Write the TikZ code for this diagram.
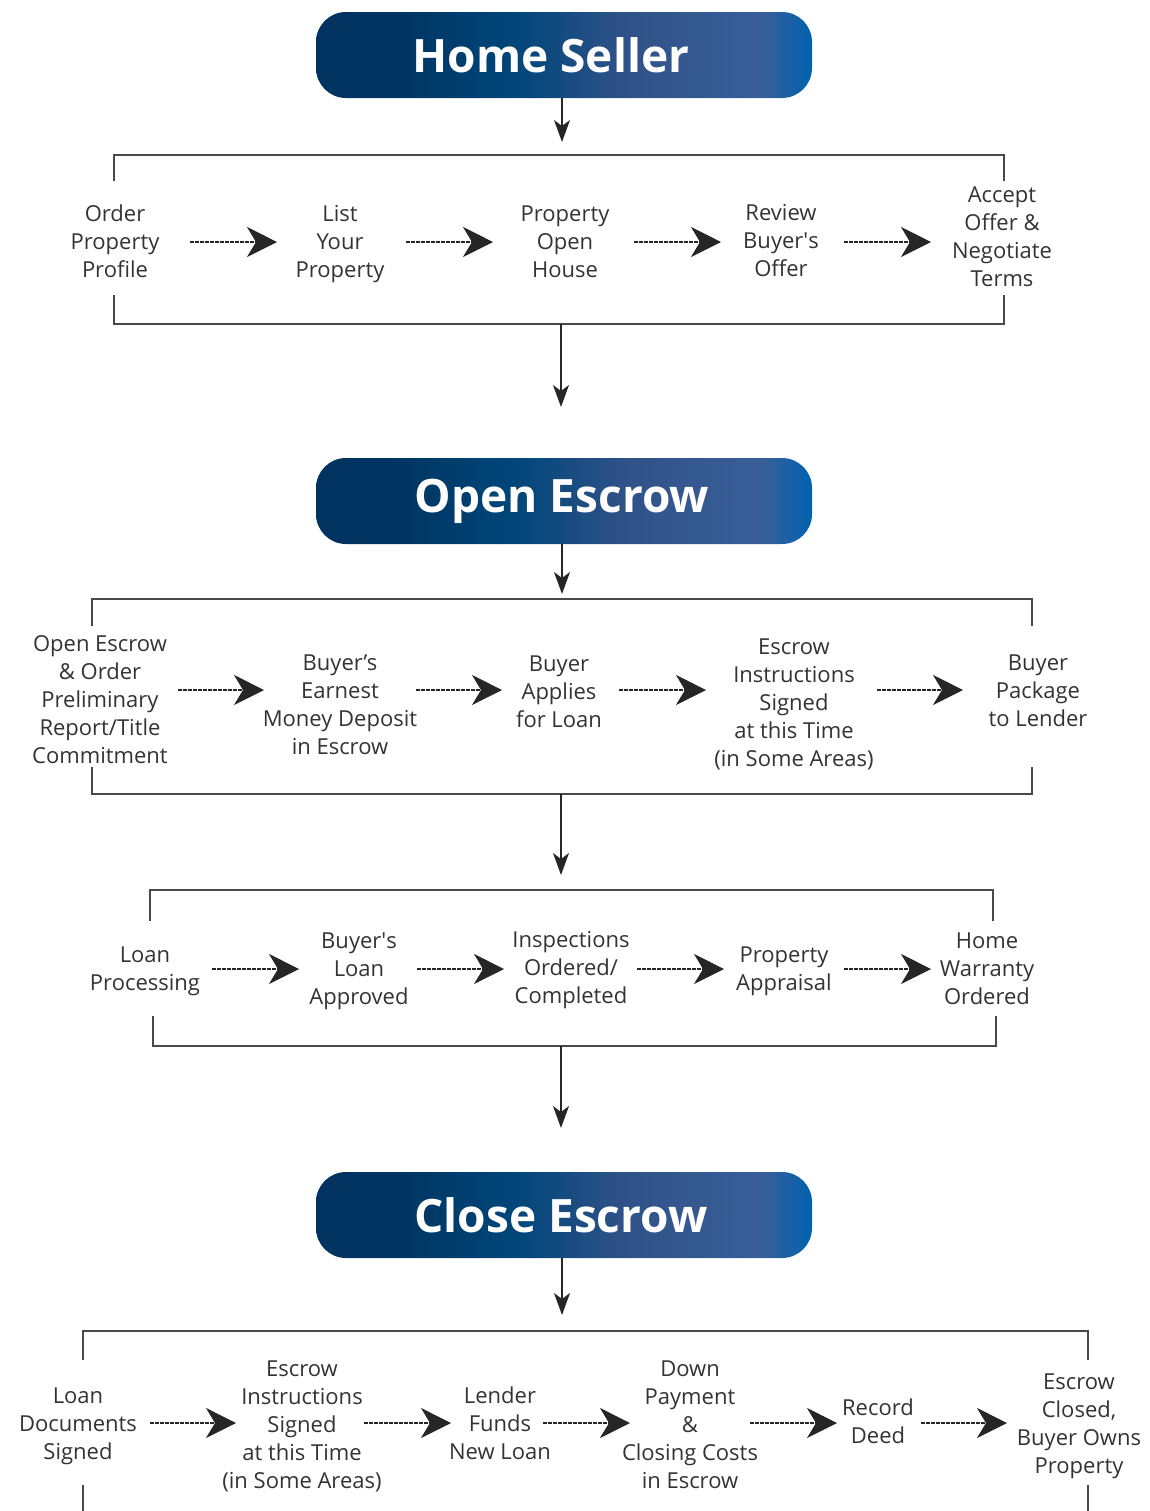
\documentclass[tikz,border=0pt]{standalone}
\usepackage{fontspec}
\setmainfont{Open Sans}
\usetikzlibrary{arrows.meta}
\definecolor{txt}{HTML}{333333}
\definecolor{brk}{HTML}{4A4A4A}
\definecolor{ga}{HTML}{00335F}
\definecolor{gb}{HTML}{00467A}
\definecolor{gc}{HTML}{2F5288}
\definecolor{gd}{HTML}{3A5E98}
\definecolor{ge}{HTML}{0062B0}
\pgfdeclarehorizontalshading{hdrshade}{100bp}{color(0bp)=(ga); color(25bp)=(ga); color(32bp)=(ga); color(45bp)=(gb); color(56bp)=(gc); color(70bp)=(gd); color(75bp)=(ge); color(100bp)=(ge)}
\newcommand{\apos}{\textquotesingle}
\tikzset{
  header/.style={shading=hdrshade, rounded corners=15pt, minimum width=248pt, minimum height=43pt,
    inner sep=0pt},
  hdrtext/.style={text=white, font=\fontsize{23}{26}\selectfont\bfseries, inner sep=0pt},
  lbl/.style={align=center, text=txt, font=\fontsize{11}{14}\selectfont, inner sep=0pt},
  flowarr/.style={draw=black!85, line width=0.55pt, dash pattern=on 2pt off 0.5pt,
    -{Stealth[length=15pt,width=15pt,inset=4.5pt]}},
  downarr/.style={draw=black!85, line width=0.8pt, -{Stealth[length=11pt,width=8pt,inset=3pt]}},
  bracket/.style={draw=brk, line width=0.75pt}
}
\begin{document}
\begin{tikzpicture}[x=0.5pt,y=-0.5pt]
\useasboundingbox (0,0) rectangle (1150,1511);

% ---------- Home Seller ----------
\node[header] (h1) at (564,55) {};
\node[hdrtext] (h1t) at (551,55) {Home Seller};
\coordinate (h1end) at (562,142);
\draw[downarr] (h1.south -| h1end) -- (h1end);

\draw[bracket] (114,181) -- (114,155) -- (1004,155) -- (1004,181);
\draw[bracket] (114,295) -- (114,324) -- (1004,324) -- (1004,295);

\node[lbl] (a1) at (115,241) {Order\\Property\\Profile};
\node[lbl] (a2) at (340,244) {List\\Your\\Property};
\node[lbl] (a3) at (565,242) {Property\\Open\\House};
\node[lbl] (a4) at (781,241) {Review\\Buyer\apos s\\Offer};
\node[lbl] (a5) at (1002,237) {Accept\\Offer \&\\Negotiate\\Terms};

\coordinate (a12s) at (190,242); \coordinate (a12e) at (277,242);
\coordinate (a23s) at (406,242); \coordinate (a23e) at (493,242);
\coordinate (a34s) at (634,242); \coordinate (a34e) at (721,242);
\coordinate (a45s) at (844,242); \coordinate (a45e) at (931,242);
\draw[flowarr] (a12s) -- (a12e);
\draw[flowarr] (a23s) -- (a23e);
\draw[flowarr] (a34s) -- (a34e);
\draw[flowarr] (a45s) -- (a45e);

\coordinate (b1s) at (561,324); \coordinate (b1e) at (561,407);
\draw[downarr] (b1s) -- (b1e);

% ---------- Open Escrow ----------
\node[header] (h2) at (564,501) {};
\node[hdrtext] (h2t) at (562,501) {Open Escrow};
\coordinate (h2end) at (562,594);
\draw[downarr] (h2.south -| h2end) -- (h2end);

\draw[bracket] (92,626) -- (92,599) -- (1032,599) -- (1032,626);
\draw[bracket] (92,767) -- (92,794) -- (1032,794) -- (1032,767);

\node[lbl] (c1) at (100,700) {Open Escrow\\\& Order\\Preliminary\\Report/Title\\Commitment};
\node[lbl] (c2) at (340,705) {Buyer’s\\Earnest\\Money Deposit\\in Escrow};
\node[lbl] (c3) at (559,692) {Buyer\\Applies\\for Loan};
\node[lbl] (c4) at (794,704) {Escrow\\Instructions\\Signed\\at this Time\\(in Some Areas)};
\node[lbl] (c5) at (1038,691) {Buyer\\Package\\to Lender};

\coordinate (c12s) at (178,690); \coordinate (c12e) at (264,690);
\coordinate (c23s) at (416,690); \coordinate (c23e) at (502,690);
\coordinate (c34s) at (619,690); \coordinate (c34e) at (706,690);
\coordinate (c45s) at (877,690); \coordinate (c45e) at (963,690);
\draw[flowarr] (c12s) -- (c12e);
\draw[flowarr] (c23s) -- (c23e);
\draw[flowarr] (c34s) -- (c34e);
\draw[flowarr] (c45s) -- (c45e);

\coordinate (b2s) at (561,794); \coordinate (b2e) at (561,875);
\draw[downarr] (b2s) -- (b2e);

% ---------- Loan row ----------
\draw[bracket] (150,921) -- (150,890) -- (993,890) -- (993,921);
\draw[bracket] (153,1016) -- (153,1046) -- (996,1046) -- (996,1016);

\node[lbl] (d1) at (145,971) {Loan\\Processing};
\node[lbl] (d2) at (359,971) {Buyer\apos s\\Loan\\Approved};
\node[lbl] (d3) at (571,970) {Inspections\\Ordered/\\Completed};
\node[lbl] (d4) at (784,971) {Property\\Appraisal};
\node[lbl] (d5) at (987,969) {Home\\Warranty\\Ordered};

\coordinate (d12s) at (212,969); \coordinate (d12e) at (299,969);
\coordinate (d23s) at (417,969); \coordinate (d23e) at (504,969);
\coordinate (d34s) at (637,969); \coordinate (d34e) at (724,969);
\coordinate (d45s) at (844,969); \coordinate (d45e) at (931,969);
\draw[flowarr] (d12s) -- (d12e);
\draw[flowarr] (d23s) -- (d23e);
\draw[flowarr] (d34s) -- (d34e);
\draw[flowarr] (d45s) -- (d45e);

\coordinate (b3s) at (561,1046); \coordinate (b3e) at (561,1128);
\draw[downarr] (b3s) -- (b3e);

% ---------- Close Escrow ----------
\node[header] (h3) at (564,1215) {};
\node[hdrtext] (h3t) at (561,1215) {Close Escrow};
\coordinate (h3end) at (562,1315);
\draw[downarr] (h3.south -| h3end) -- (h3end);

\draw[bracket] (83,1360) -- (83,1331) -- (1088,1331) -- (1088,1360);
\draw[bracket] (83,1485) -- (83,1511);
\draw[bracket] (1088,1485) -- (1088,1511);

\node[lbl] (e1) at (78,1426) {Loan\\Documents\\Signed};
\node[lbl] (e2) at (302,1426) {Escrow\\Instructions\\Signed\\at this Time\\(in Some Areas)};
\node[lbl] (e3) at (500,1423) {Lender\\Funds\\New Loan};
\node[lbl] (e4) at (690,1425) {Down\\Payment\\\&\\Closing Costs\\in Escrow};
\node[lbl] (e5) at (878,1421) {Record\\Deed};
\node[lbl] (e6) at (1079,1426) {Escrow\\Closed,\\Buyer Owns\\Property};

\coordinate (e12s) at (150,1423); \coordinate (e12e) at (236,1423);
\coordinate (e23s) at (364,1423); \coordinate (e23e) at (451,1423);
\coordinate (e34s) at (543,1423); \coordinate (e34e) at (630,1423);
\coordinate (e45s) at (750,1423); \coordinate (e45e) at (837,1423);
\coordinate (e56s) at (921,1423); \coordinate (e56e) at (1007,1423);
\draw[flowarr] (e12s) -- (e12e);
\draw[flowarr] (e23s) -- (e23e);
\draw[flowarr] (e34s) -- (e34e);
\draw[flowarr] (e45s) -- (e45e);
\draw[flowarr] (e56s) -- (e56e);
\end{tikzpicture}
\end{document}
